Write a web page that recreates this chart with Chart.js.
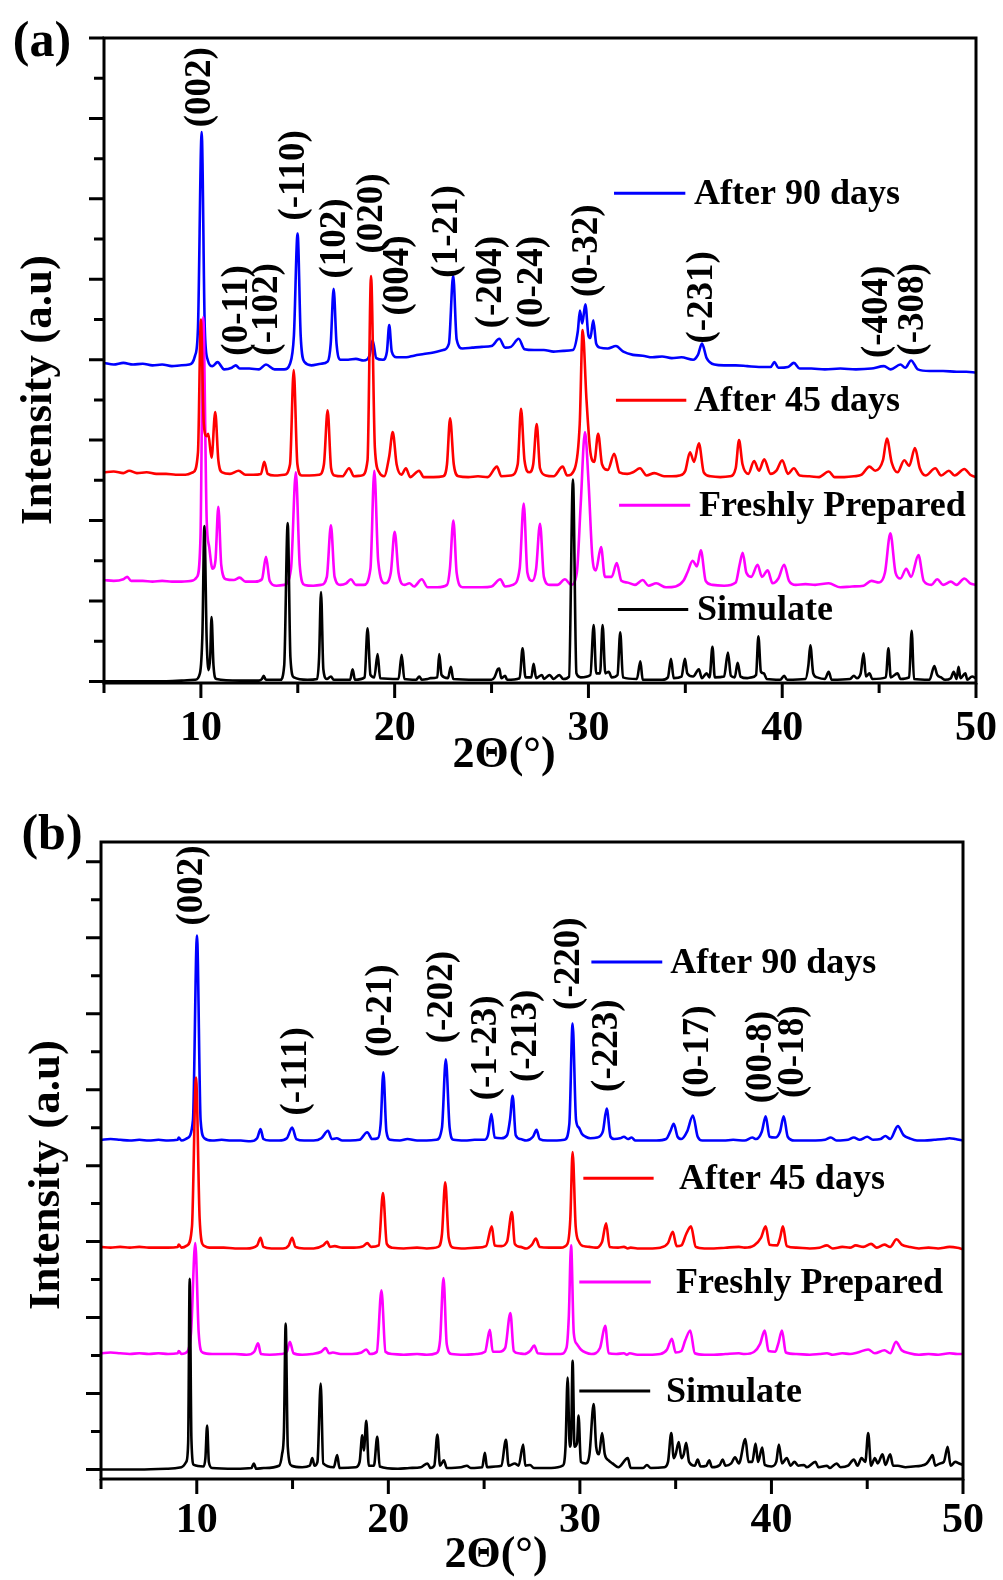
<!DOCTYPE html>
<html><head><meta charset="utf-8">
<script src="https://cdn.jsdelivr.net/npm/chart.js@4.4.0/dist/chart.umd.min.js"></script>
<style>
html,body{margin:0;padding:0;background:#fff;}
body{width:1003px;height:1580px;position:relative;overflow:hidden;}
canvas{position:absolute;left:0;}
#ca{top:0;} #cb{top:790px;}
</style></head><body>
<canvas id="ca" width="1003" height="790"></canvas>
<canvas id="cb" width="1003" height="790"></canvas>
<script>
// ---------------- DATA ----------------
const seriesNames = ['After 90 days', 'After 45 days', 'Freshly Prepared', 'Simulate'];
const seriesColors = ['#0000FF', '#FF0000', '#FF00FF', '#000000'];

const xTickValues = [5, 10, 15, 20, 25, 30, 35, 40, 45, 50];
const xTickLabels = ['', '10', '', '20', '', '30', '', '40', '', '50'];
const yTickValues = [0, 0.5, 1, 1.5, 2, 2.5, 3, 3.5, 4, 4.5, 5, 5.5, 6, 6.5, 7, 7.5, 8];

// Panel (a) peak labels
const aPeakLabels = ['(002)','(0-11)','(-102)','(-110)','(102)','(020)','(004)','(1-21)','(-204)','(0-24)','(0-32)','(-231)','(-404)','(-308)'];
const aPeakX = [10.0, 11.91, 13.41, 14.85, 16.92, 18.83, 20.17, 22.7, 24.97, 27.09, 29.93, 35.86, 44.89, 46.75];
const aPeakY = [6.89, 4.05, 4.05, 5.73, 5.01, 5.32, 4.55, 5.02, 4.39, 4.39, 4.78, 4.2, 4.02, 4.05];

// Panel (b) peak labels
const bPeakLabels = ['(002)','(-111)','(0-21)','(-202)','(-1-23)','(-213)','(-220)','(-223)','(0-17)','(00-8)','(0-18)'];
const bPeakX = [9.79, 15.18, 19.62, 22.81, 25.11, 27.2, 29.45, 31.43, 36.19, 39.49, 41.16];
const bPeakY = [7.16, 4.66, 5.43, 5.61, 4.86, 5.1, 6.05, 4.97, 4.89, 4.82, 4.89];

// Panel (a) series: [2theta, intensity offset units]
const a90 = [[5.0,3.96],[5.5,3.94],[6.0,3.96],[6.5,3.94],[7.0,3.95],[7.5,3.93],[8.0,3.94],[8.5,3.92],[9.0,3.93],[9.4,3.94],[9.7,4.05],[9.85,4.4],[10.04,6.83],[10.2,4.4],[10.35,4.0],[10.6,3.92],[10.86,3.97],[11.2,3.88],[11.6,3.9],[11.8,3.93],[12.0,3.89],[12.5,3.89],[13.0,3.88],[13.36,3.94],[13.8,3.88],[14.3,3.88],[14.6,3.95],[14.8,4.3],[14.99,5.57],[15.15,4.3],[15.35,3.97],[15.7,3.93],[16.2,3.95],[16.55,3.98],[16.7,4.2],[16.85,4.88],[17.0,4.2],[17.2,4.0],[17.6,4.0],[18.0,4.01],[18.4,3.99],[18.7,4.05],[18.86,4.24],[19.05,4.02],[19.4,4.0],[19.6,4.1],[19.72,4.43],[19.85,4.1],[20.1,4.03],[20.6,4.03],[21.0,4.05],[21.5,4.07],[22.0,4.09],[22.5,4.12],[22.8,4.2],[23.02,5.05],[23.2,4.25],[23.5,4.14],[24.0,4.15],[24.5,4.16],[25.0,4.17],[25.4,4.26],[25.7,4.15],[26.0,4.16],[26.4,4.26],[26.7,4.13],[27.2,4.12],[27.7,4.12],[28.2,4.1],[28.7,4.11],[29.2,4.12],[29.45,4.35],[29.56,4.61],[29.68,4.45],[29.84,4.69],[30.0,4.3],[30.1,4.27],[30.25,4.49],[30.4,4.2],[30.6,4.15],[31.0,4.14],[31.42,4.17],[31.8,4.1],[32.3,4.06],[32.8,4.05],[33.3,4.03],[33.8,4.04],[34.3,4.02],[34.8,4.03],[35.4,4.0],[35.65,4.06],[35.86,4.2],[36.1,4.02],[36.5,3.94],[37.0,3.93],[37.6,3.93],[38.2,3.92],[38.8,3.91],[39.4,3.91],[39.6,3.97],[39.8,3.9],[40.3,3.91],[40.6,3.96],[40.9,3.89],[41.5,3.89],[42.2,3.88],[43.0,3.89],[43.8,3.88],[44.6,3.89],[45.25,3.92],[45.6,3.88],[46.1,3.94],[46.35,3.9],[46.65,3.99],[47.0,3.88],[47.6,3.86],[48.3,3.86],[49.0,3.85],[49.5,3.85],[50.0,3.84]];

const a45 = [[5.0,2.6],[5.5,2.61],[6.0,2.59],[6.3,2.62],[6.7,2.59],[7.2,2.6],[7.7,2.58],[8.2,2.58],[8.7,2.57],[9.2,2.57],[9.6,2.6],[9.85,2.85],[10.0,4.5],[10.15,3.2],[10.3,3.05],[10.38,3.08],[10.55,2.78],[10.74,3.35],[10.9,2.75],[11.1,2.6],[11.5,2.58],[11.95,2.62],[12.3,2.57],[12.7,2.57],[13.1,2.58],[13.27,2.73],[13.45,2.58],[13.8,2.56],[14.3,2.57],[14.6,2.7],[14.79,3.87],[14.98,2.7],[15.2,2.56],[15.6,2.56],[16.1,2.57],[16.35,2.7],[16.54,3.37],[16.72,2.65],[16.9,2.56],[17.3,2.55],[17.65,2.65],[17.9,2.55],[18.3,2.56],[18.6,2.75],[18.78,5.04],[18.98,2.9],[19.2,2.6],[19.45,2.55],[19.72,2.8],[19.9,3.1],[20.1,2.7],[20.35,2.57],[20.58,2.65],[20.8,2.54],[21.26,2.62],[21.5,2.54],[22.0,2.54],[22.5,2.55],[22.7,2.7],[22.86,3.27],[23.05,2.7],[23.3,2.55],[23.8,2.54],[24.3,2.55],[24.8,2.54],[25.28,2.67],[25.5,2.55],[26.0,2.56],[26.35,2.7],[26.52,3.39],[26.7,2.75],[26.95,2.6],[27.15,2.7],[27.33,3.2],[27.5,2.65],[27.8,2.56],[28.2,2.55],[28.67,2.67],[28.9,2.56],[29.3,2.65],[29.55,3.2],[29.7,4.37],[29.9,3.5],[30.1,2.85],[30.3,2.73],[30.5,3.08],[30.7,2.7],[31.0,2.63],[31.33,2.83],[31.6,2.6],[32.0,2.58],[32.3,2.6],[32.66,2.65],[33.0,2.56],[33.4,2.59],[33.9,2.55],[34.3,2.55],[34.7,2.56],[35.0,2.62],[35.24,2.85],[35.45,2.73],[35.7,2.96],[35.95,2.6],[36.3,2.55],[36.8,2.54],[37.3,2.55],[37.6,2.65],[37.77,3.0],[37.95,2.7],[38.25,2.58],[38.55,2.74],[38.8,2.62],[39.07,2.76],[39.4,2.58],[39.7,2.62],[40.0,2.75],[40.3,2.58],[40.6,2.65],[40.9,2.56],[41.4,2.55],[41.9,2.54],[42.4,2.61],[42.7,2.54],[43.2,2.54],[43.7,2.55],[44.1,2.57],[44.5,2.67],[44.8,2.62],[45.2,2.75],[45.4,3.02],[45.65,2.72],[45.95,2.6],[46.3,2.75],[46.55,2.68],[46.85,2.9],[47.1,2.65],[47.4,2.56],[47.9,2.65],[48.2,2.56],[48.6,2.62],[48.9,2.56],[49.4,2.64],[49.7,2.57],[50.0,2.54]];

const aFresh = [[5.0,1.26],[5.5,1.25],[6.0,1.27],[6.2,1.3],[6.4,1.25],[7.0,1.25],[7.5,1.24],[8.0,1.25],[8.5,1.24],[9.0,1.24],[9.5,1.25],[9.8,1.3],[9.98,1.8],[10.12,4.53],[10.3,2.0],[10.43,1.67],[10.6,1.4],[10.75,1.5],[10.9,2.17],[11.05,1.45],[11.3,1.27],[11.7,1.26],[12.0,1.29],[12.3,1.24],[12.8,1.24],[13.15,1.27],[13.36,1.55],[13.55,1.25],[13.9,1.19],[14.3,1.2],[14.65,1.4],[14.9,2.6],[15.1,1.45],[15.35,1.2],[15.8,1.19],[16.2,1.2],[16.5,1.3],[16.71,1.94],[16.9,1.3],[17.2,1.2],[17.5,1.22],[17.74,1.27],[18.0,1.2],[18.4,1.2],[18.75,1.4],[18.95,2.62],[19.15,1.5],[19.5,1.22],[19.8,1.35],[20.0,1.86],[20.2,1.35],[20.5,1.2],[20.76,1.22],[21.0,1.18],[21.4,1.27],[21.7,1.17],[22.2,1.17],[22.7,1.2],[22.85,1.4],[23.03,2.0],[23.2,1.35],[23.5,1.17],[24.0,1.17],[24.5,1.17],[25.0,1.18],[25.45,1.27],[25.7,1.18],[26.1,1.2],[26.45,1.4],[26.66,2.21],[26.85,1.35],[27.1,1.25],[27.3,1.4],[27.5,1.96],[27.7,1.3],[28.0,1.2],[28.4,1.2],[28.79,1.27],[29.1,1.2],[29.4,1.35],[29.6,2.2],[29.82,3.1],[30.0,2.5],[30.2,1.55],[30.38,1.38],[30.65,1.67],[30.85,1.3],[31.2,1.3],[31.46,1.47],[31.7,1.25],[32.0,1.23],[32.4,1.2],[32.8,1.26],[33.1,1.19],[33.5,1.22],[34.0,1.17],[34.5,1.18],[34.9,1.25],[35.1,1.35],[35.38,1.5],[35.6,1.43],[35.8,1.63],[36.05,1.25],[36.4,1.2],[37.0,1.19],[37.6,1.23],[37.8,1.45],[37.96,1.6],[38.15,1.35],[38.4,1.3],[38.73,1.45],[38.95,1.3],[39.25,1.38],[39.5,1.22],[39.8,1.28],[40.1,1.45],[40.35,1.25],[40.7,1.2],[41.2,1.21],[41.7,1.2],[42.4,1.22],[43.0,1.17],[43.6,1.18],[44.2,1.19],[44.6,1.25],[45.0,1.23],[45.3,1.35],[45.58,1.84],[45.85,1.35],[46.1,1.28],[46.4,1.4],[46.65,1.3],[47.03,1.57],[47.3,1.25],[47.7,1.2],[48.0,1.27],[48.3,1.2],[48.7,1.24],[49.0,1.2],[49.4,1.28],[49.7,1.22],[50.0,1.2]];

const aSim = [[5.0,0.0],[8.0,0.0],[9.0,0.01],[9.7,0.02],[9.95,0.1],[10.08,0.6],[10.18,1.93],[10.3,0.5],[10.4,0.14],[10.48,0.3],[10.55,0.8],[10.65,0.2],[10.8,0.03],[12.0,0.01],[13.0,0.01],[13.15,0.03],[13.24,0.07],[13.35,0.02],[14.1,0.02],[14.3,0.2],[14.48,1.97],[14.62,0.3],[14.8,0.05],[15.5,0.02],[16.0,0.03],[16.1,0.3],[16.2,1.11],[16.32,0.15],[16.5,0.03],[16.71,0.06],[16.85,0.02],[17.7,0.02],[17.83,0.15],[17.95,0.02],[18.45,0.05],[18.6,0.66],[18.75,0.08],[18.95,0.05],[19.12,0.34],[19.25,0.04],[20.2,0.03],[20.36,0.33],[20.5,0.03],[21.1,0.02],[21.27,0.06],[21.4,0.02],[21.7,0.03],[21.85,0.04],[22.2,0.05],[22.3,0.34],[22.42,0.08],[22.75,0.04],[22.9,0.18],[23.02,0.03],[24.2,0.02],[25.0,0.02],[25.15,0.05],[25.32,0.15],[25.4,0.16],[25.5,0.04],[25.7,0.07],[25.8,0.02],[26.45,0.04],[26.6,0.41],[26.75,0.05],[27.05,0.05],[27.17,0.22],[27.3,0.04],[27.6,0.08],[27.7,0.03],[28.0,0.08],[28.2,0.03],[28.5,0.08],[28.7,0.03],[29.0,0.06],[29.2,2.51],[29.38,0.1],[29.6,0.05],[30.1,0.08],[30.27,0.7],[30.4,0.1],[30.6,0.1],[30.73,0.7],[30.87,0.1],[31.05,0.12],[31.2,0.05],[31.5,0.08],[31.64,0.61],[31.78,0.05],[32.5,0.03],[32.68,0.25],[32.8,0.02],[33.8,0.02],[34.1,0.05],[34.26,0.28],[34.4,0.04],[34.8,0.06],[34.98,0.28],[35.1,0.1],[35.4,0.06],[35.7,0.15],[35.85,0.04],[36.1,0.1],[36.25,0.05],[36.4,0.43],[36.52,0.05],[37.0,0.06],[37.2,0.36],[37.35,0.07],[37.55,0.05],[37.7,0.23],[37.85,0.06],[38.2,0.04],[38.4,0.05],[38.65,0.08],[38.77,0.56],[38.9,0.12],[39.05,0.1],[39.2,0.03],[39.9,0.02],[40.1,0.07],[40.25,0.02],[41.2,0.03],[41.35,0.2],[41.45,0.45],[41.6,0.1],[41.8,0.05],[42.2,0.03],[42.4,0.12],[42.55,0.02],[43.5,0.03],[43.7,0.07],[43.85,0.04],[44.05,0.1],[44.2,0.35],[44.32,0.06],[44.5,0.1],[44.65,0.03],[45.35,0.05],[45.48,0.41],[45.6,0.05],[45.95,0.1],[46.1,0.03],[46.55,0.05],[46.68,0.63],[46.8,0.03],[47.6,0.02],[47.85,0.19],[48.0,0.08],[48.2,0.05],[48.4,0.02],[48.7,0.04],[48.85,0.12],[49.0,0.03],[49.1,0.18],[49.2,0.04],[49.45,0.1],[49.55,0.02],[49.8,0.06],[50.0,0.04]];

// Panel (b) series
const b90 = [[5.0,4.34],[5.5,4.35],[6.0,4.34],[6.5,4.33],[7.0,4.34],[7.5,4.33],[8.0,4.34],[8.5,4.33],[9.0,4.34],[9.06,4.37],[9.2,4.33],[9.5,4.36],[9.8,4.6],[10.01,7.03],[10.2,4.6],[10.4,4.36],[10.8,4.33],[11.3,4.34],[11.8,4.33],[12.3,4.33],[12.8,4.32],[13.15,4.36],[13.33,4.48],[13.48,4.35],[13.8,4.33],[14.3,4.33],[14.7,4.36],[14.98,4.5],[15.2,4.35],[15.6,4.33],[16.1,4.33],[16.5,4.36],[16.85,4.46],[17.05,4.35],[17.3,4.36],[17.6,4.33],[18.0,4.33],[18.5,4.34],[18.9,4.44],[19.15,4.35],[19.45,4.36],[19.6,4.55],[19.74,5.23],[19.9,4.45],[20.1,4.34],[20.6,4.33],[21.0,4.35],[21.5,4.33],[22.0,4.33],[22.5,4.34],[22.8,4.5],[23.0,5.4],[23.2,4.5],[23.4,4.34],[24.0,4.33],[24.5,4.34],[25.0,4.34],[25.2,4.4],[25.38,4.68],[25.55,4.37],[25.9,4.36],[26.2,4.4],[26.35,4.6],[26.49,4.92],[26.65,4.4],[26.9,4.35],[27.2,4.33],[27.55,4.38],[27.74,4.47],[27.9,4.35],[28.3,4.33],[28.8,4.33],[29.2,4.34],[29.45,4.55],[29.62,5.87],[29.8,4.6],[29.95,4.5],[30.1,4.42],[30.3,4.38],[30.55,4.36],[30.9,4.37],[31.2,4.45],[31.4,4.75],[31.6,4.38],[31.8,4.35],[32.1,4.36],[32.3,4.38],[32.5,4.35],[32.7,4.37],[32.9,4.33],[33.4,4.33],[34.0,4.33],[34.5,4.35],[34.72,4.45],[34.9,4.55],[35.1,4.38],[35.3,4.35],[35.6,4.45],[35.9,4.66],[36.15,4.38],[36.4,4.33],[37.0,4.33],[37.5,4.33],[38.0,4.34],[38.6,4.33],[39.0,4.37],[39.2,4.35],[39.5,4.45],[39.7,4.65],[39.9,4.38],[40.2,4.37],[40.45,4.45],[40.64,4.65],[40.85,4.38],[41.2,4.33],[41.8,4.33],[42.3,4.33],[42.8,4.34],[43.1,4.37],[43.4,4.33],[44.0,4.34],[44.3,4.37],[44.6,4.34],[45.0,4.38],[45.3,4.34],[45.7,4.35],[45.95,4.39],[46.2,4.35],[46.6,4.52],[46.9,4.4],[47.2,4.36],[47.6,4.33],[48.0,4.33],[48.5,4.34],[49.0,4.35],[49.3,4.36],[49.6,4.35],[50.0,4.33]];

const b45 = [[5.0,2.93],[5.5,2.92],[6.0,2.93],[6.5,2.92],[7.0,2.93],[7.5,2.92],[8.0,2.92],[8.5,2.92],[9.0,2.93],[9.06,2.96],[9.2,2.92],[9.5,2.95],[9.75,3.2],[9.96,5.16],[10.15,3.3],[10.35,2.95],[10.8,2.92],[11.4,2.92],[12.0,2.91],[12.6,2.91],[13.15,2.95],[13.33,3.05],[13.48,2.93],[13.9,2.91],[14.5,2.91],[14.8,2.95],[14.98,3.05],[15.15,2.93],[15.6,2.91],[16.1,2.91],[16.6,2.95],[16.81,3.0],[16.95,2.93],[17.2,2.94],[17.6,2.92],[18.2,2.92],[18.7,2.94],[18.9,2.98],[19.1,2.93],[19.5,2.95],[19.72,3.64],[19.92,2.97],[20.2,2.92],[20.8,2.91],[21.5,2.92],[22.0,2.91],[22.6,2.93],[22.8,3.1],[22.97,3.78],[23.15,3.05],[23.4,2.92],[24.0,2.91],[24.6,2.92],[25.1,2.94],[25.4,3.2],[25.55,2.95],[25.9,2.94],[26.2,3.0],[26.45,3.39],[26.6,2.97],[26.9,2.93],[27.2,2.91],[27.5,2.96],[27.7,3.04],[27.9,2.93],[28.4,2.92],[29.0,2.92],[29.35,2.97],[29.5,3.3],[29.62,4.18],[29.78,3.2],[29.95,3.0],[30.2,2.94],[30.5,2.93],[30.8,2.92],[31.15,2.99],[31.37,3.24],[31.55,2.93],[32.0,2.92],[32.3,2.93],[32.5,2.91],[32.65,2.92],[33.0,2.91],[33.6,2.91],[34.2,2.92],[34.6,2.98],[34.85,3.13],[35.05,2.94],[35.3,2.95],[35.55,3.1],[35.8,3.2],[36.05,2.93],[36.5,2.91],[37.0,2.91],[37.6,2.92],[38.3,2.93],[38.6,2.92],[39.1,2.95],[39.45,3.05],[39.7,3.2],[39.9,2.96],[40.3,2.95],[40.45,3.05],[40.6,3.2],[40.8,2.94],[41.3,2.92],[42.0,2.91],[42.5,2.92],[42.9,2.95],[43.2,2.91],[43.7,2.93],[44.1,2.92],[44.4,2.95],[44.8,2.93],[45.2,2.97],[45.5,2.92],[45.9,2.96],[46.2,2.93],[46.53,3.03],[46.8,2.96],[47.2,2.93],[47.7,2.91],[48.2,2.92],[48.7,2.91],[49.3,2.93],[49.7,2.92],[50.0,2.9]];

const bFresh = [[5.0,1.53],[5.5,1.54],[6.0,1.53],[6.5,1.52],[7.0,1.53],[7.5,1.52],[8.0,1.53],[8.5,1.52],[9.0,1.53],[9.06,1.56],[9.2,1.52],[9.5,1.55],[9.7,1.8],[9.92,2.98],[10.1,1.8],[10.3,1.54],[10.8,1.52],[11.4,1.52],[12.0,1.52],[12.6,1.51],[13.0,1.55],[13.2,1.66],[13.35,1.52],[13.8,1.51],[14.4,1.52],[14.7,1.55],[14.86,1.68],[15.05,1.53],[15.5,1.51],[16.0,1.52],[16.5,1.55],[16.73,1.6],[16.9,1.53],[17.1,1.54],[17.5,1.52],[18.1,1.52],[18.6,1.54],[18.85,1.58],[19.05,1.52],[19.4,1.55],[19.64,2.36],[19.85,1.55],[20.2,1.52],[20.8,1.51],[21.5,1.52],[22.0,1.51],[22.5,1.53],[22.7,1.7],[22.88,2.52],[23.05,1.65],[23.3,1.52],[24.0,1.51],[24.6,1.52],[25.05,1.55],[25.3,1.84],[25.45,1.55],[25.8,1.55],[26.1,1.6],[26.37,2.06],[26.55,1.56],[26.8,1.53],[27.1,1.52],[27.4,1.56],[27.62,1.63],[27.8,1.53],[28.4,1.52],[29.0,1.52],[29.3,1.6],[29.42,2.0],[29.54,2.95],[29.68,1.8],[29.85,1.65],[30.05,1.58],[30.3,1.54],[30.6,1.52],[31.05,1.6],[31.32,1.89],[31.5,1.53],[31.9,1.52],[32.3,1.53],[32.45,1.51],[32.6,1.53],[33.0,1.51],[33.6,1.51],[34.2,1.52],[34.55,1.58],[34.8,1.72],[35.0,1.54],[35.3,1.56],[35.5,1.7],[35.76,1.83],[36.0,1.53],[36.5,1.51],[37.0,1.51],[37.6,1.52],[38.3,1.53],[38.6,1.52],[39.1,1.55],[39.4,1.65],[39.65,1.83],[39.85,1.56],[40.2,1.55],[40.35,1.65],[40.55,1.83],[40.75,1.54],[41.3,1.52],[42.0,1.51],[42.5,1.52],[42.9,1.53],[43.2,1.51],[43.7,1.53],[44.1,1.52],[44.5,1.54],[45.05,1.58],[45.4,1.53],[45.9,1.57],[46.2,1.53],[46.5,1.68],[46.8,1.57],[47.2,1.53],[47.7,1.51],[48.2,1.52],[48.7,1.51],[49.3,1.53],[49.7,1.52],[50.0,1.52]];

const bSim = [[5.0,0.0],[7.0,0.0],[8.5,0.01],[9.2,0.03],[9.45,0.1],[9.55,0.35],[9.63,2.51],[9.72,0.4],[9.85,0.06],[10.35,0.04],[10.45,0.15],[10.54,0.58],[10.63,0.1],[10.8,0.02],[12.0,0.01],[12.85,0.02],[12.98,0.08],[13.1,0.01],[13.5,0.02],[14.3,0.05],[14.45,0.2],[14.55,0.5],[14.64,1.92],[14.75,0.3],[14.95,0.05],[15.5,0.03],[15.9,0.05],[16.03,0.15],[16.15,0.05],[16.3,0.1],[16.47,1.13],[16.6,0.08],[17.15,0.03],[17.33,0.19],[17.45,0.02],[18.3,0.03],[18.5,0.1],[18.64,0.45],[18.72,0.25],[18.85,0.64],[18.98,0.05],[19.25,0.05],[19.42,0.43],[19.55,0.04],[20.5,0.01],[21.1,0.02],[21.7,0.03],[22.04,0.08],[22.2,0.02],[22.4,0.05],[22.56,0.46],[22.7,0.05],[22.9,0.12],[23.05,0.02],[23.8,0.03],[24.1,0.05],[24.3,0.02],[24.9,0.03],[25.04,0.22],[25.15,0.03],[25.6,0.04],[25.9,0.05],[26.14,0.39],[26.28,0.05],[26.6,0.08],[26.8,0.05],[27.04,0.33],[27.15,0.05],[27.4,0.06],[27.6,0.02],[28.5,0.02],[29.1,0.05],[29.25,0.3],[29.36,1.21],[29.47,0.3],[29.54,0.4],[29.62,1.43],[29.72,0.3],[29.85,0.35],[29.93,0.71],[30.05,0.1],[30.3,0.08],[30.5,0.2],[30.72,0.86],[30.85,0.3],[31.0,0.2],[31.16,0.48],[31.3,0.2],[31.5,0.12],[31.7,0.08],[32.0,0.03],[32.5,0.15],[32.65,0.02],[33.3,0.02],[33.5,0.06],[33.7,0.02],[34.4,0.03],[34.6,0.1],[34.77,0.48],[34.9,0.15],[35.0,0.2],[35.16,0.36],[35.3,0.15],[35.42,0.2],[35.55,0.35],[35.7,0.1],[36.0,0.05],[36.15,0.13],[36.3,0.04],[36.6,0.05],[36.75,0.12],[36.9,0.03],[37.3,0.06],[37.45,0.13],[37.6,0.05],[37.9,0.08],[38.1,0.16],[38.3,0.08],[38.64,0.4],[38.8,0.1],[39.0,0.1],[39.17,0.34],[39.3,0.1],[39.52,0.29],[39.65,0.06],[40.0,0.04],[40.25,0.1],[40.39,0.33],[40.55,0.08],[40.8,0.15],[41.0,0.05],[41.2,0.1],[41.4,0.05],[41.7,0.06],[41.85,0.03],[42.3,0.1],[42.45,0.03],[42.9,0.05],[43.05,0.02],[43.4,0.08],[43.6,0.03],[44.0,0.05],[44.3,0.13],[44.5,0.05],[44.7,0.15],[44.9,0.1],[45.05,0.48],[45.2,0.05],[45.4,0.15],[45.55,0.08],[45.8,0.2],[45.95,0.06],[46.2,0.2],[46.35,0.05],[46.6,0.05],[47.0,0.03],[47.4,0.04],[47.8,0.05],[48.1,0.08],[48.3,0.15],[48.41,0.19],[48.55,0.05],[48.8,0.08],[49.0,0.1],[49.2,0.3],[49.35,0.05],[49.6,0.1],[49.8,0.08],[50.0,0.06]];

// Legend anchors in data units: [line start x, line end x, text x, y]
const aLegendPos = [[31.32, 35.0, 35.45, 6.07], [31.42, 35.05, 35.45, 3.495], [31.58, 35.25, 35.7, 2.19], [31.52, 35.15, 35.6, 0.895]];
const bLegendPos = [[30.6, 34.3, 34.72, 6.68], [30.18, 33.85, 35.17, 3.835], [29.97, 33.7, 35.02, 2.467], [29.97, 33.67, 34.49, 1.033]];

// ---------------- RENDER ----------------
const FONT = '"Liberation Serif", "Times New Roman", serif';

function toPts(arr) { return arr.map(p => ({ x: p[0], y: p[1] })); }

function makePanel(canvasId, cfg) {
  const decor = {
    id: 'decor',
    afterDatasetsDraw(chart) {
      const ctx = chart.ctx, ca = chart.chartArea, xs = chart.scales.x, ys = chart.scales.y;
      ctx.save();
      ctx.strokeStyle = '#000';
      ctx.lineWidth = 3;
      ctx.lineCap = 'butt';
      ctx.strokeRect(ca.left, ca.top, ca.right - ca.left, ca.bottom - ca.top);
      ctx.beginPath();
      yTickValues.forEach(v => {
        const py = ys.getPixelForValue(v);
        const len = (Math.abs(v - Math.round(v)) < 1e-6) ? 15 : 10;
        ctx.moveTo(ca.left - len, py); ctx.lineTo(ca.left, py);
      });
      xTickValues.forEach(v => {
        const px = xs.getPixelForValue(v);
        const len = (v % 10 === 0) ? 15 : 10;
        ctx.moveTo(px, ca.bottom); ctx.lineTo(px, ca.bottom + len);
      });
      ctx.stroke();

      ctx.fillStyle = '#000';
      ctx.font = 'bold 42px ' + FONT;
      ctx.textAlign = 'center';
      ctx.textBaseline = 'alphabetic';
      xTickValues.forEach((v, i) => {
        if (xTickLabels[i]) ctx.fillText(xTickLabels[i], xs.getPixelForValue(v), cfg.tickLabelBaseline);
      });

      // axis titles
      ctx.font = 'bold 44px ' + FONT;
      ctx.textBaseline = 'middle';
      ctx.fillText('2\u0398(\u00B0)', cfg.xTitle[0], cfg.xTitle[1]);
      ctx.save();
      ctx.translate(cfg.yTitle[0], cfg.yTitle[1]);
      ctx.rotate(-Math.PI / 2);
      ctx.font = 'bold 45px ' + FONT;
      ctx.fillText('Intensity (a.u)', 0, 0);
      ctx.restore();

      // panel letter
      ctx.font = 'bold 50px ' + FONT;
      ctx.fillText(cfg.letter, cfg.letterPos[0], cfg.letterPos[1]);

      // peak labels
      ctx.font = 'bold 37px ' + FONT;
      ctx.textAlign = 'left';
      ctx.textBaseline = 'middle';
      cfg.peakLabels.forEach((lab, i) => {
        const px = xs.getPixelForValue(cfg.peakX[i]);
        const py = ys.getPixelForValue(cfg.peakY[i]);
        ctx.save();
        ctx.translate(px, py);
        ctx.rotate(-Math.PI / 2);
        ctx.fillText(lab, 0, 0);
        ctx.restore();
      });

      // legend
      cfg.legendPos.forEach((lp, i) => {
        const x1 = xs.getPixelForValue(lp[0]);
        const x2 = xs.getPixelForValue(lp[1]);
        const xt = xs.getPixelForValue(lp[2]);
        const yy = ys.getPixelForValue(lp[3]);
        ctx.strokeStyle = seriesColors[i];
        ctx.lineWidth = 3;
        ctx.beginPath(); ctx.moveTo(x1, yy); ctx.lineTo(x2, yy); ctx.stroke();
        ctx.fillStyle = '#000';
        ctx.font = 'bold 36px ' + FONT;
        ctx.textAlign = 'left';
        ctx.textBaseline = 'alphabetic';
        ctx.fillText(seriesNames[i], xt, yy + 11);
      });
      ctx.restore();
    }
  };

  const order = [4, 2, 3, 1];
  new Chart(document.getElementById(canvasId), {
    type: 'line',
    data: {
      datasets: cfg.series.map((s, i) => ({
        label: seriesNames[i],
        data: toPts(s),
        borderColor: seriesColors[i],
        borderWidth: 2.6,
        pointRadius: 0,
        cubicInterpolationMode: 'monotone',
        borderJoinStyle: 'round',
        fill: false,
        order: order[i]
      }))
    },
    options: {
      responsive: false,
      animation: false,
      devicePixelRatio: 1,
      layout: { padding: cfg.padding },
      plugins: { legend: { display: false }, tooltip: { enabled: false } },
      scales: {
        x: { type: 'linear', min: 5, max: 50, display: false },
        y: { type: 'linear', min: cfg.yMin, max: cfg.yMax, display: false }
      }
    },
    plugins: [decor]
  });
}

makePanel('ca', {
  series: [a90, a45, aFresh, aSim],
  padding: { left: 104, right: 27, top: 38, bottom: 107 },
  yMin: -0.02, yMax: 8.0,
  tickLabelBaseline: 740,
  xTitle: [504, 756],
  yTitle: [39, 390],
  letter: '(a)', letterPos: [42, 43],
  peakLabels: aPeakLabels, peakX: aPeakX, peakY: aPeakY,
  legendPos: aLegendPos
});

makePanel('cb', {
  series: [b90, b45, bFresh, bSim],
  padding: { left: 101, right: 40, top: 52, bottom: 101 },
  yMin: -0.125, yMax: 8.26,
  tickLabelBaseline: 742,
  xTitle: [496, 766],
  yTitle: [47, 385],
  letter: '(b)', letterPos: [52, 46],
  peakLabels: bPeakLabels, peakX: bPeakX, peakY: bPeakY,
  legendPos: bLegendPos
});
</script></body></html>
